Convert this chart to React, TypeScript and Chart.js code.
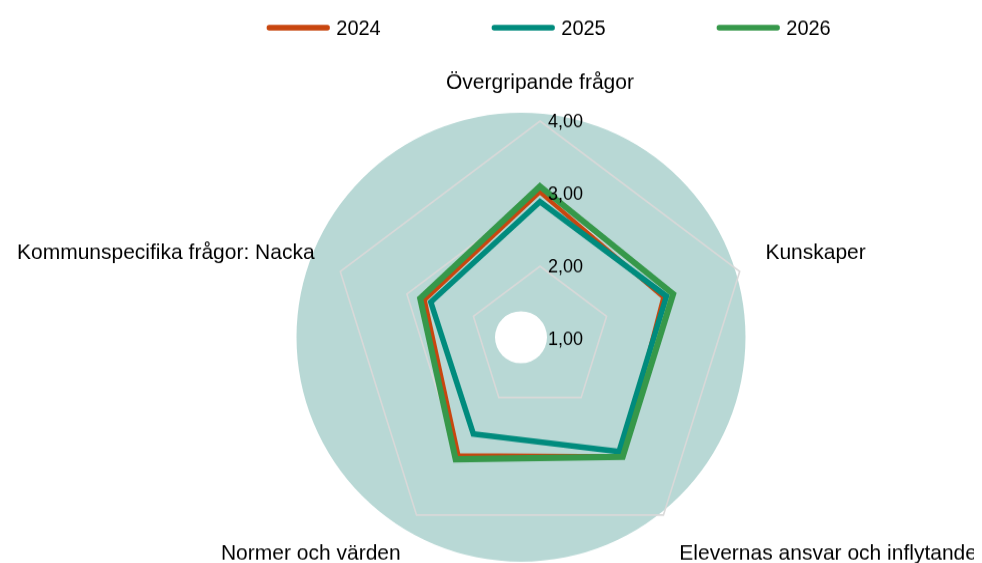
import React, { useEffect, useRef } from 'react';
import { Chart, registerables } from 'chart.js';

Chart.register(...registerables);

const categories = [
  'Övergripande frågor',
  'Kunskaper',
  'Elevernas ansvar och inflytande',
  'Normer och värden',
  'Kommunspecifika frågor: Nacka',
];
const seriesLabels = ['2024', '2025', '2026'];
const values2024 = [3.02, 2.85, 3.0, 2.98, 2.73];
const values2025 = [2.89, 2.9, 2.92, 2.62, 2.64];
const values2026 = [3.1, 3.0, 3.01, 3.05, 2.8];
const scaleMin = 1;
const scaleMax = 4;
const scaleStep = 1;

const FONT = '"Liberation Sans", Arial, Helvetica, sans-serif';
const STRETCH = 1.037;
const CANVAS_H = 560;

const fmt = (v: number) => v.toFixed(2).replace('.', ',');

export default function App() {
  const ref = useRef<HTMLCanvasElement>(null);

  useEffect(() => {
    document.documentElement.style.overflow = 'hidden';
    document.body.style.overflow = 'hidden';
    const canvas = ref.current!;
    const colors = ['#c8460f', '#008b7d', '#36984a'];
    const widths = [4, 5.5, 6];
    const orders = [2, 1, 0];
    const seriesValues = [values2024, values2025, values2026];

    const decor = {
      id: 'decor',
      beforeDraw(chart: any) {
        const s = chart.scales.r;
        const ctx = chart.ctx;
        const cx = s.xCenter - 19;
        const cy = s.yCenter - 1.5;
        const rx = s.drawingArea * 1.069;
        const ry = rx / STRETCH;
        const hx = 26;
        const hy = hx / STRETCH;
        ctx.save();
        ctx.beginPath();
        ctx.ellipse(cx, cy, rx, ry, 0, 0, Math.PI * 2);
        ctx.moveTo(cx + hx, cy);
        ctx.ellipse(cx, cy, hx, hy, 0, 0, Math.PI * 2);
        ctx.fillStyle = '#b8d8d5';
        ctx.fill('evenodd');
        ctx.restore();
      },
      afterDatasetsDraw(chart: any) {
        const s = chart.scales.r;
        const ctx = chart.ctx;
        ctx.save();
        ctx.font = `18px ${FONT}`;
        ctx.fillStyle = '#000';
        ctx.textAlign = 'left';
        ctx.textBaseline = 'middle';
        s.ticks.forEach((t: any) => {
          const d = s.getDistanceFromCenterForValue(t.value);
          ctx.fillText(fmt(t.value), s.xCenter + 8, s.yCenter - d + 1);
        });
        ctx.restore();
      },
      afterDraw(chart: any) {
        const s = chart.scales.r;
        const ctx = chart.ctx;
        ctx.save();
        // point labels
        const plSize = 21;
        const lh = plSize * 1.2;
        ctx.font = `${plSize}px ${FONT}`;
        ctx.fillStyle = '#000';
        ctx.textBaseline = 'middle';
        categories.forEach((label, i) => {
          let a = s.getIndexAngle(i) % (Math.PI * 2);
          if (a < 0) a += Math.PI * 2;
          const deg = Math.round((a * 180) / Math.PI);
          const p = s.getPointPosition(i, s.drawingArea + 27);
          let align: CanvasTextAlign = 'center';
          if (deg === 0 || deg === 180) align = 'center';
          else if (deg < 180) align = 'left';
          else align = 'right';
          let y = p.y;
          if (deg === 90 || deg === 270) y -= lh / 2;
          else if (deg > 270 || deg < 90) y -= lh;
          ctx.textAlign = align;
          ctx.fillText(label, p.x, y + lh / 2 + 3);
        });
        // legend
        const lgSize = 20;
        ctx.font = `${lgSize}px ${FONT}`;
        ctx.textAlign = 'left';
        const lineLen = 58;
        const gap = 9;
        const spacing = 225;
        const firstW = lineLen + gap + ctx.measureText(seriesLabels[seriesLabels.length - 1]).width;
        const total = spacing * (seriesLabels.length - 1) + firstW;
        const legendCenter = s.xCenter + 10;
        const startX = legendCenter - total / 2;
        const ly = 19;
        seriesLabels.forEach((lab, i) => {
          const x0 = startX + i * spacing;
          ctx.beginPath();
          ctx.strokeStyle = colors[i];
          ctx.lineWidth = 5.3;
          ctx.lineCap = 'round';
          ctx.moveTo(x0, ly);
          ctx.lineTo(x0 + lineLen, ly);
          ctx.stroke();
          ctx.fillStyle = '#000';
          ctx.fillText(lab, x0 + lineLen + gap, ly + 1);
        });
        ctx.restore();
      },
    };

    const chart = new Chart(canvas, {
      type: 'radar',
      data: {
        labels: categories,
        datasets: seriesLabels.map((lab, i) => ({
          label: lab,
          data: seriesValues[i],
          borderColor: colors[i],
          backgroundColor: colors[i],
          borderWidth: widths[i],
          fill: false,
          pointRadius: 0,
          pointHoverRadius: 0,
          order: orders[i],
          borderJoinStyle: 'miter',
        })),
      },
      options: {
        animation: false,
        responsive: true,
        maintainAspectRatio: false,
        layout: {
          padding: { left: 322.5, right: 223.5, top: 109.5, bottom: CANVAS_H - 529.5 },
        },
        plugins: {
          legend: { display: false },
          tooltip: { enabled: false },
        },
        scales: {
          r: {
            min: scaleMin,
            max: scaleMax,
            ticks: { stepSize: scaleStep, display: false },
            grid: { color: '#d9d9d9', lineWidth: 1.6 },
            angleLines: { display: false },
            pointLabels: { display: false },
          },
        },
      } as any,
      plugins: [decor],
    });
    return () => chart.destroy();
  }, []);

  return (
    <div style={{ height: 556 }}>
      <div
        style={{
          position: 'relative',
          width: '100%',
          height: CANVAS_H,
          transform: `scaleY(${STRETCH})`,
          transformOrigin: 'top left',
        }}
      >
        <canvas ref={ref} />
      </div>
    </div>
  );
}
